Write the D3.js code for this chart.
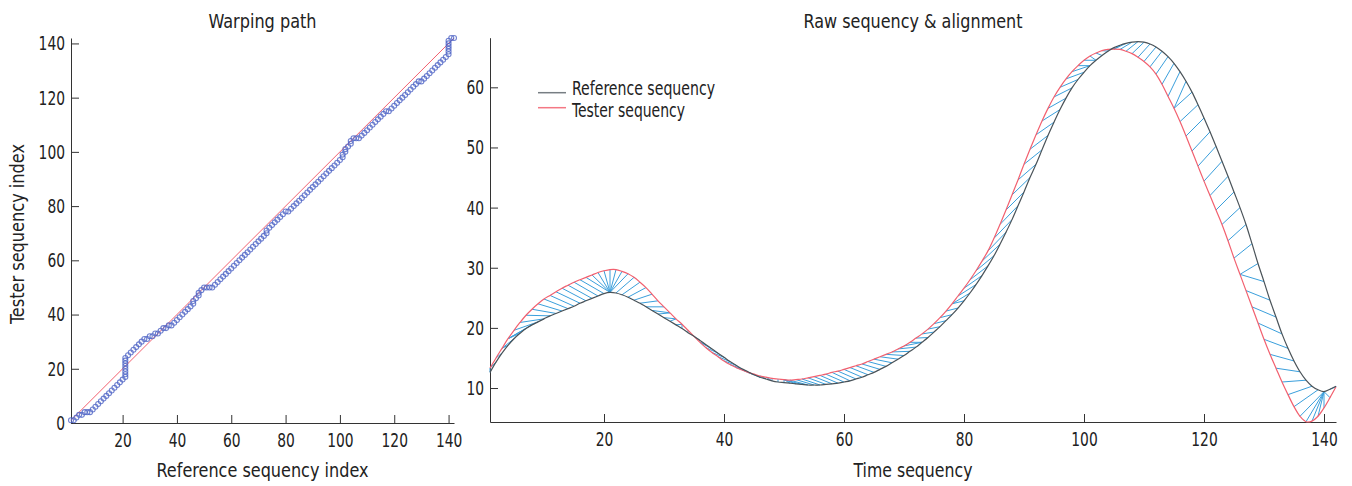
<!DOCTYPE html>
<html>
<head>
<meta charset="utf-8">
<script src="https://cdn.jsdelivr.net/npm/d3@7"></script>
<style>
  body { margin: 0; background: #fff; }
  svg text { font-family: "DejaVu Sans Condensed", "Liberation Sans Narrow", sans-serif; fill: #222; }
  .axis path, .axis line { stroke: #333; stroke-width: 1; }
</style>
</head>
<body>
<div class="board"></div>
<script>
// reference sequence, index 1..142
var refSeq = [
  12.6, 14.3, 15.8, 17.1, 18.2, 19.1, 19.9, 20.5, 21.0, 21.5,
  22.0, 22.4, 22.8, 23.2, 23.6, 24.1, 24.5, 24.9, 25.3, 25.7,
  25.9, 25.8, 25.5, 25.1, 24.6, 24.1, 23.5, 22.9, 22.3, 21.7,
  21.1, 20.5, 19.9, 19.2, 18.6, 17.9, 17.2, 16.5, 15.8, 15.1,
  14.4, 13.8, 13.2, 12.7, 12.2, 11.8, 11.5, 11.2, 11.0, 10.9,
  10.8, 10.7, 10.6, 10.5, 10.5, 10.5, 10.6, 10.7, 10.8, 11.0,
  11.2, 11.5, 11.8, 12.2, 12.6, 13.1, 13.6, 14.2, 14.8, 15.4,
  16.1, 16.8, 17.6, 18.4, 19.3, 20.2, 21.2, 22.2, 23.3, 24.5,
  25.8, 27.2, 28.7, 30.3, 32.0, 33.9, 35.9, 38.0, 40.3, 42.6,
  45.0, 47.2, 49.6, 52.0, 54.2, 56.3, 58.2, 59.9, 61.3, 62.5,
  63.6, 64.5, 65.3, 66.0, 66.6, 67.0, 67.3, 67.5, 67.6, 67.5,
  67.2, 66.7, 66.0, 65.1, 64.0, 62.6, 61.0, 59.2, 57.1, 54.9,
  52.6, 50.2, 47.7, 45.2, 42.6, 40.0, 37.2, 34.0, 30.7, 27.7,
  24.6, 21.8, 19.0, 16.6, 14.5, 12.7, 11.3, 10.3, 9.7, 9.4,
  9.8, 10.3
];

// tester sequence, index 1..142
var testSeq = [
  13.3, 15.0, 16.6, 18.2, 19.6, 20.9, 22.1, 23.1, 24.0, 24.8,
  25.4, 26.0, 26.6, 27.1, 27.6, 28.0, 28.4, 28.8, 29.2, 29.5,
  29.7, 29.7, 29.4, 29.0, 28.4, 27.6, 26.7, 25.6, 24.5, 23.5,
  22.5, 21.5, 20.6, 19.6, 18.6, 17.6, 16.7, 15.9, 15.2, 14.5,
  13.9, 13.4, 13.0, 12.6, 12.3, 12.0, 11.8, 11.6, 11.5, 11.4,
  11.3, 11.4, 11.5, 11.7, 11.9, 12.1, 12.3, 12.6, 12.8, 13.1,
  13.4, 13.7, 14.0, 14.4, 14.8, 15.2, 15.6, 16.0, 16.5, 17.0,
  17.6, 18.3, 19.0, 19.8, 20.7, 21.7, 22.8, 24.0, 25.3, 26.6,
  28.0, 29.5, 31.1, 32.8, 34.9, 37.2, 39.6, 42.1, 44.6, 47.2,
  49.7, 52.1, 54.4, 56.5, 58.4, 60.0, 61.4, 62.6, 63.6, 64.5,
  65.2, 65.7, 66.1, 66.3, 66.35, 66.3, 66.0, 65.6, 65.0, 64.3,
  63.4, 62.2, 60.5, 58.5, 56.5, 54.3, 51.9, 49.4, 46.9, 44.4,
  42.0, 39.6, 37.2, 34.5, 31.6, 28.9, 26.2, 23.5, 20.8, 18.1,
  15.6, 13.3, 11.0, 8.9, 6.9, 5.3, 4.4, 4.5, 5.3, 6.7,
  8.4, 10.2
];

// warping path: reference index / tester index pairs
var warpRef = [
  1, 2, 3, 4, 5, 6, 7, 8, 9, 10, 11, 12, 13, 14, 15, 16, 17, 18, 19, 20,
  21, 21, 21, 21, 21, 21, 21, 21,
  22, 23, 24, 25, 26, 27, 28, 29, 30, 31, 32, 33, 34, 35, 36, 37, 38, 39, 40, 41, 42, 43, 44, 45,
  46, 46, 47, 48, 48, 49, 50, 51, 52, 53,
  54, 55, 56, 57, 58, 59, 60, 61, 62, 63, 64, 65, 66, 67, 68, 69, 70, 71, 72,
  73, 73, 74,
  75, 76, 77, 78, 79, 80,
  81,
  82, 83, 84, 85, 86, 87, 88, 89, 90, 91, 92, 93, 94, 95, 96, 97, 98, 99, 100,
  101, 101, 102, 102, 103, 104, 104, 105, 106, 107,
  108, 109, 110, 111, 112, 113, 114, 115, 116, 117,
  118,
  119, 120, 121, 122, 123, 124, 125, 126, 127, 128, 129,
  130,
  131, 132, 133, 134, 135, 136, 137, 138, 139,
  140, 140, 140, 140, 140, 140,
  141, 142
];
var warpTest = [
  1, 1, 2, 3, 3, 4, 4, 4, 5, 6, 7, 8, 9, 10, 11, 12, 13, 14, 15, 16,
  17, 18, 19, 20, 21, 22, 23, 24,
  25, 26, 27, 28, 29, 30, 31, 31, 32, 32, 33, 33, 34, 35, 35, 36, 36, 37, 38, 39, 40, 41, 42, 43,
  44, 45, 46, 47, 48, 49, 50, 50, 50, 50,
  51, 52, 53, 54, 55, 56, 57, 58, 59, 60, 61, 62, 63, 64, 65, 66, 67, 68, 69,
  70, 71, 72,
  73, 74, 75, 76, 77, 78,
  78,
  79, 80, 81, 82, 83, 84, 85, 86, 87, 88, 89, 90, 91, 92, 93, 94, 95, 96, 97,
  98, 99, 100, 101, 102, 103, 104, 105, 105, 105,
  106, 107, 108, 109, 110, 111, 112, 113, 114, 115,
  115,
  116, 117, 118, 119, 120, 121, 122, 123, 124, 125, 126,
  126,
  127, 128, 129, 130, 131, 132, 133, 134, 135,
  136, 137, 138, 139, 140, 141,
  142, 142
];

var diagEnds = [1, 142];
var leftXTicks = [20, 40, 60, 80, 100, 120, 140];
var leftYTicks = [0, 20, 40, 60, 80, 100, 120, 140];
var rightXTicks = [20, 40, 60, 80, 100, 120, 140];
var rightYTicks = [10, 20, 30, 40, 50, 60];
var legendLabels = ["Reference sequency", "Tester sequency"];

var colors = { ref: "#4a5359", test: "#f2606f", align: "#3a9fdc", marker: "#4f64c6" };

var svg = d3.select(".board").append("svg")
  .attr("width", 1352)
  .attr("height", 486);

var fs = 20;

// squeeze text to the narrow look of the original face
var narrow = function (sel, w) {
  sel.attr("textLength", w).attr("lengthAdjust", "spacingAndGlyphs");
};
var tickText = function (g) {
  g.selectAll(".tick text")
    .style("font-size", fs + "px")
    .each(function () {
      var t = d3.select(this);
      narrow(t, t.text().length * 8.8);
    });
};

// ---------- left panel: warping path ----------
var lx = d3.scaleLinear().domain([1, 142]).range([71, 454]);
var ly = d3.scaleLinear().domain([0, 142]).range([423, 38]);

var left = svg.append("g");

left.append("g").attr("class", "axis")
  .attr("transform", "translate(0,423)")
  .call(d3.axisBottom(lx).tickValues(leftXTicks).tickSizeInner(-8).tickSizeOuter(0).tickPadding(10))
  .call(tickText);

left.append("g").attr("class", "axis")
  .attr("transform", "translate(71,0)")
  .call(d3.axisLeft(ly).tickValues(leftYTicks).tickSizeInner(-8).tickSizeOuter(0).tickPadding(6))
  .call(tickText);

left.append("line")
  .attr("x1", lx(diagEnds[0])).attr("y1", ly(diagEnds[0]))
  .attr("x2", lx(diagEnds[1])).attr("y2", ly(diagEnds[1]))
  .attr("stroke", colors.test)
  .attr("stroke-width", 1);

left.selectAll("circle.wp").data(d3.range(warpRef.length)).enter()
  .append("circle")
  .attr("class", "wp")
  .attr("cx", function (k) { return lx(warpRef[k]); })
  .attr("cy", function (k) { return ly(warpTest[k]); })
  .attr("r", 2.5)
  .attr("fill", "none")
  .attr("stroke", colors.marker)
  .attr("stroke-opacity", 0.8)
  .attr("stroke-width", 1.1);

left.append("text").attr("x", 262.5).attr("y", 28).attr("text-anchor", "middle")
  .style("font-size", "19px").text("Warping path").call(narrow, 108);
left.append("text").attr("x", 262.5).attr("y", 477).attr("text-anchor", "middle")
  .style("font-size", fs + "px").text("Reference sequency index").call(narrow, 212);
left.append("text").attr("transform", "translate(24,234) rotate(-90)").attr("text-anchor", "middle")
  .style("font-size", fs + "px").text("Tester sequency index").call(narrow, 180);

// ---------- right panel: raw sequences & alignment ----------
var rx = d3.scaleLinear().domain([1, 142]).range([490, 1336]);
var ry = d3.scaleLinear().domain([4.35, 68.25]).range([422, 37.7]);

var right = svg.append("g");

right.append("g").attr("class", "axis")
  .attr("transform", "translate(0,422)")
  .call(d3.axisBottom(rx).tickValues(rightXTicks).tickSizeInner(-8).tickSizeOuter(0).tickPadding(10))
  .call(tickText);

right.append("g").attr("class", "axis")
  .attr("transform", "translate(490,0)")
  .call(d3.axisLeft(ry).tickValues(rightYTicks).tickSizeInner(-8).tickSizeOuter(0).tickPadding(6))
  .call(tickText);

// alignment lines from the warping path
right.selectAll("line.al").data(d3.range(warpRef.length)).enter()
  .append("line")
  .attr("class", "al")
  .attr("x1", function (k) { return rx(warpRef[k]); })
  .attr("y1", function (k) { return ry(refSeq[warpRef[k] - 1]); })
  .attr("x2", function (k) { return rx(warpTest[k]); })
  .attr("y2", function (k) { return ry(testSeq[warpTest[k] - 1]); })
  .attr("stroke", colors.align)
  .attr("stroke-width", 1);

var line = function (seq) {
  return d3.line()
    .curve(d3.curveCatmullRom)
    .x(function (d, i) { return rx(i + 1); })
    .y(function (d) { return ry(d); })(seq);
};

right.append("path").attr("d", line(testSeq))
  .attr("fill", "none").attr("stroke", colors.test).attr("stroke-width", 1.2);
right.append("path").attr("d", line(refSeq))
  .attr("fill", "none").attr("stroke", colors.ref).attr("stroke-width", 1.2);

// legend
var legend = right.append("g");
var legendLineY = [92.7, 107.7];
var legendTextY = [95, 117];
var legendWidths = [143, 113];
[colors.ref, colors.test].forEach(function (c, k) {
  legend.append("line").attr("x1", 538).attr("x2", 566)
    .attr("y1", legendLineY[k]).attr("y2", legendLineY[k])
    .attr("stroke", c).attr("stroke-width", 1.5).attr("stroke-opacity", k === 0 ? 0.75 : 0.85);
  legend.append("text").attr("x", 572).attr("y", legendTextY[k]).style("font-size", "19px")
    .text(legendLabels[k]).call(narrow, legendWidths[k]);
});

right.append("text").attr("x", 913).attr("y", 28).attr("text-anchor", "middle")
  .style("font-size", "19px").text("Raw sequency & alignment").call(narrow, 219);
right.append("text").attr("x", 913).attr("y", 477).attr("text-anchor", "middle")
  .style("font-size", fs + "px").text("Time sequency").call(narrow, 119);
</script>
</body>
</html>
